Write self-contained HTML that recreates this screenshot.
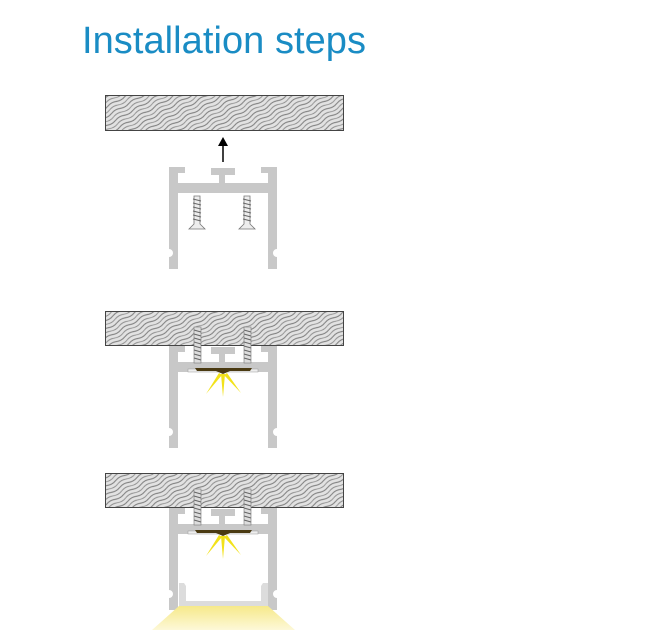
<!DOCTYPE html>
<html><head><style>
body{margin:0;background:#fff;width:645px;height:630px;overflow:hidden}
</style></head><body>
<svg width="645" height="630" viewBox="0 0 645 630" xmlns="http://www.w3.org/2000/svg">
<defs>
<pattern id="wood" width="20" height="8" patternUnits="userSpaceOnUse" patternTransform="rotate(-30)">
<rect width="20" height="8" fill="#e2e2e2"/>
<path d="M0 2 Q5 0 10 2 T20 2" stroke="#7a7a7a" stroke-width="1" fill="none"/>
<path d="M0 6 Q5 4 10 6 T20 6" stroke="#8c8c8c" stroke-width="0.9" fill="none"/>
</pattern>
<linearGradient id="glow" x1="0" y1="0" x2="0" y2="1">
<stop offset="0" stop-color="#f6e98a"/><stop offset="1" stop-color="#fdf8d8"/>
</linearGradient>
<g id="prof">
<path fill="#c8c8c8" d="M0 0 H16 V6 H9 V16 H50 V8 H42 V1 H66 V8 H56 V16 H99 V6 H92 V0 H108 V82 a4 4 0 0 0 0 8 V102 H99 V26 H9 V102 H0 V90 a4 4 0 0 0 0 -8 Z"/>
</g>
<g id="screw">
<path d="M-3 0 L3 0 L3 28 L8 33 L-8 33 L-3 28 Z" fill="#eee" stroke="#777" stroke-width="0.8"/>
<path d="M-4 3 L4 5 M-4 7 L4 9 M-4 11 L4 13 M-4 15 L4 17 M-4 19 L4 21 M-4 23 L4 25" stroke="#666" stroke-width="1"/>
</g>
</defs>
<text x="82" y="53" font-family="'Liberation Sans',sans-serif" font-size="38" fill="#1a8cc4" textLength="284">Installation steps</text>

<!-- step 1 -->
<rect x="105.5" y="95.5" width="238" height="35" fill="url(#wood)" stroke="#444"/>
<line x1="223" y1="162" x2="223" y2="145" stroke="#000" stroke-width="1.5"/>
<path d="M218 146 L223 137 L228 146 Z" fill="#000"/>
<use href="#prof" x="169" y="167"/>
<use href="#screw" x="197" y="196"/>
<use href="#screw" x="247" y="196"/>

<!-- step 2 -->
<rect x="105.5" y="311.5" width="238" height="34" fill="url(#wood)" stroke="#444"/>
<use href="#prof" x="169" y="346"/>
<rect x="194" y="327" width="7" height="36" fill="#ddd" stroke="#777" stroke-width="0.6"/>
<path d="M194 330 L201 332 M194 334 L201 336 M194 338 L201 340 M194 342 L201 344 M194 346 L201 348 M194 350 L201 352 M194 354 L201 356 M194 358 L201 360" stroke="#666"/>
<rect x="244" y="327" width="7" height="36" fill="#ddd" stroke="#777" stroke-width="0.6"/>
<path d="M244 330 L251 332 M244 334 L251 336 M244 338 L251 340 M244 342 L251 344 M244 346 L251 348 M244 350 L251 352 M244 354 L251 356 M244 358 L251 360" stroke="#666"/>
<rect x="188" y="369" width="70" height="3" fill="#eee" stroke="#999" stroke-width="0.5"/>
<path d="M195 368 H252 L250 371 H230 L223 374 L216 371 H197 Z" fill="#4a3a12"/>
<g fill="#f2e21a">
<path d="M221 374 L225 374 L223 397 Z"/>
<path d="M219 373 L222 375 L206 394 Z"/>
<path d="M224 375 L227 373 L241 393 Z"/>
</g>

<!-- step 3 -->
<rect x="105.5" y="473.5" width="238" height="34" fill="url(#wood)" stroke="#444"/>
<use href="#prof" x="169" y="508"/>
<rect x="194" y="489" width="7" height="36" fill="#ddd" stroke="#777" stroke-width="0.6"/>
<path d="M194 492 L201 494 M194 496 L201 498 M194 500 L201 502 M194 504 L201 506 M194 508 L201 510 M194 512 L201 514 M194 516 L201 518 M194 520 L201 522" stroke="#666"/>
<rect x="244" y="489" width="7" height="36" fill="#ddd" stroke="#777" stroke-width="0.6"/>
<path d="M244 492 L251 494 M244 496 L251 498 M244 500 L251 502 M244 504 L251 506 M244 508 L251 510 M244 512 L251 514 M244 516 L251 518 M244 520 L251 522" stroke="#666"/>
<rect x="188" y="531" width="70" height="3" fill="#eee" stroke="#999" stroke-width="0.5"/>
<path d="M195 530 H252 L250 533 H230 L223 536 L216 533 H197 Z" fill="#4a3a12"/>
<g fill="#f2e21a">
<path d="M221 536 L225 536 L223 559 Z"/>
<path d="M219 535 L222 537 L206 556 Z"/>
<path d="M224 537 L227 535 L241 555 Z"/>
</g>
<path d="M179 583 H184 L186 586 V601 H261 V586 L263 583 H268 V606 H179 Z" fill="#dcdcdc"/>
<path d="M179 606 H268 L295 630 H152 Z" fill="url(#glow)"/>
</svg>
</body></html>
